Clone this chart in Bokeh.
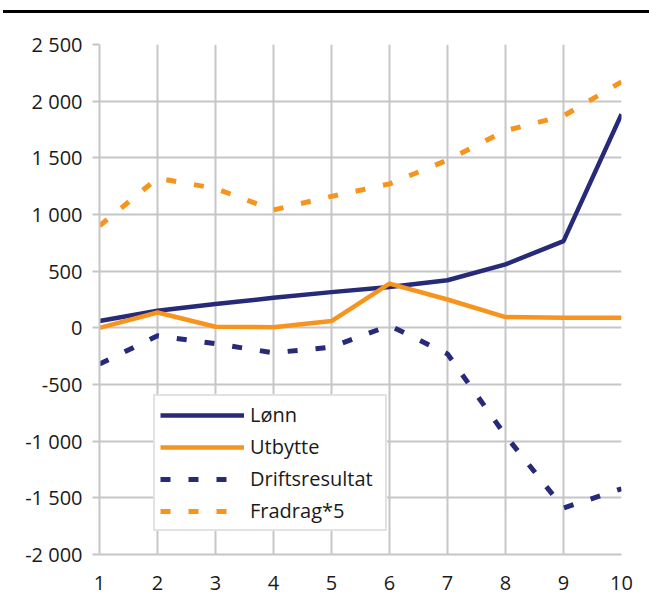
from bokeh.plotting import figure
from bokeh.models import Range1d, FixedTicker, Legend, LegendItem, Div
from bokeh.layouts import column
from bokeh.embed import file_html
from bokeh.resources import INLINE

x = [1, 2, 3, 4, 5, 6, 7, 8, 9, 10]
lonn = [60, 150, 210, 265, 315, 360, 420, 560, 765, 1885]
utbytte = [0, 135, 10, 5, 60, 390, 250, 95, 88, 88]
driftsresultat = [-320, -70, -140, -220, -170, 20, -230, -950, -1590, -1420]
fradrag5 = [900, 1320, 1230, 1040, 1160, 1270, 1480, 1740, 1870, 2170]

y_ticks = [-2000, -1500, -1000, -500, 0, 500, 1000, 1500, 2000, 2500]
y_labels = ["-2 000", "-1 500", "-1 000", "-500", "0", "500", "1 000", "1 500", "2 000", "2 500"]
x_ticks = x
names = ["Lønn", "Utbytte", "Driftsresultat", "Fradrag*5"]

NAVY = "#262a79"
ORANGE = "#f7941d"
GRID = "#c6c6c6"
FONT = "Open Sans"
FS = "20px"

p = figure(width=641, height=593, output_backend="svg", toolbar_location=None,
           x_range=Range1d(1, 10), y_range=Range1d(-2000, 2500),
           min_border_left=99, min_border_right=20, min_border_top=31, min_border_bottom=52)
p.outline_line_color = None
p.background_fill_color = "white"
p.border_fill_color = "white"

p.xaxis.ticker = FixedTicker(ticks=x_ticks)
p.yaxis.ticker = FixedTicker(ticks=y_ticks)
p.yaxis.major_label_overrides = {t: l for t, l in zip(y_ticks, y_labels)}
for ax in (p.xaxis, p.yaxis):
    ax.axis_line_color = GRID
    ax.axis_line_width = 2
    ax.major_tick_line_color = GRID
    ax.major_tick_line_width = 2
    ax.minor_tick_line_color = None
    ax.major_tick_in = 0
    ax.major_label_text_font = FONT
    ax.major_label_text_font_size = FS
    ax.major_label_text_color = "#1a1a1a"
p.xaxis.major_tick_out = 0
p.xaxis.major_label_standoff = 21
p.yaxis.major_tick_out = 7
p.yaxis.major_label_standoff = 10

for g in (p.xgrid, p.ygrid):
    g.grid_line_color = GRID
    g.grid_line_width = 2
p.xgrid.ticker = FixedTicker(ticks=x_ticks)
p.ygrid.ticker = FixedTicker(ticks=y_ticks)

r1 = p.line(x, lonn, line_color=NAVY, line_width=4.5)
r2 = p.line(x, utbytte, line_color=ORANGE, line_width=4.5)
r3 = p.line(x, driftsresultat, line_color=NAVY, line_width=5, line_dash="10 18")
r4 = p.line(x, fradrag5, line_color=ORANGE, line_width=5, line_dash="10 18")

legend = Legend(items=[LegendItem(label=n, renderers=[r]) for n, r in zip(names, [r1, r2, r3, r4])],
                location=(54, 23), orientation="vertical",
                label_text_font=FONT, label_text_font_size=FS, label_text_color="#1a1a1a",
                glyph_width=84, glyph_height=22, label_height=22, label_width=130,
                label_standoff=6, spacing=5, padding=5, margin=0,
                border_line_color=GRID, border_line_width=2,
                background_fill_color="white", background_fill_alpha=1)
p.add_layout(legend, "center")

top_line = Div(text="", width=646, height=3, margin=(10, 0, 0, 3),
               styles={"background-color": "black"})

layout = column(top_line, p, spacing=0)
open("out.html", "w").write(file_html(layout, INLINE))
